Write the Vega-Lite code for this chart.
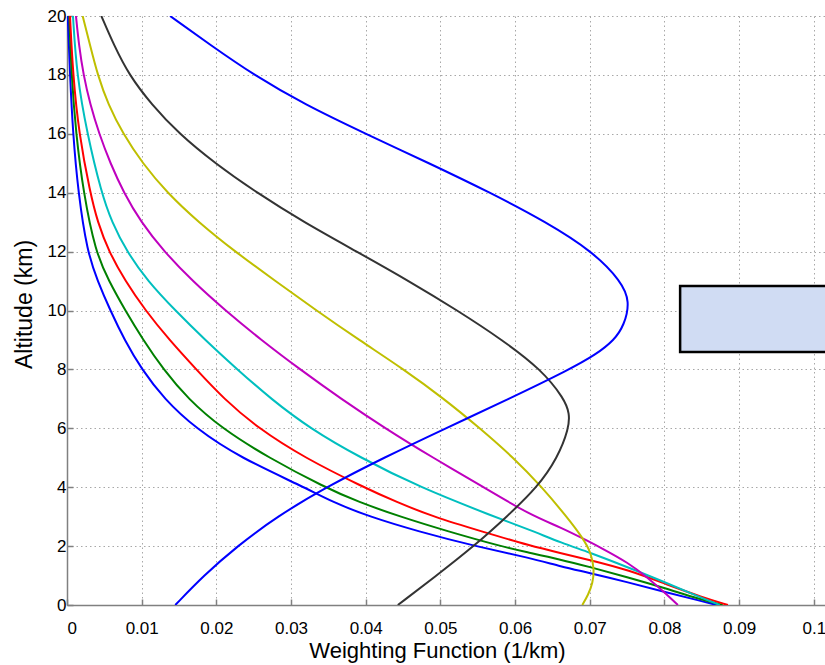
{
  "$schema": "https://vega.github.io/schema/vega-lite/v6.json",
  "width": 758,
  "height": 589,
  "autosize": {"type": "none"},
  "padding": {"left": 67, "top": 16, "right": 0, "bottom": 60},
  "background": "white",
  "config": {
    "view": {"stroke": null},
    "axis": {
      "labelFont": "Liberation Sans",
      "labelFontSize": 17,
      "labelColor": "#000000",
      "titleFont": "Liberation Sans",
      "titleFontWeight": "normal",
      "titleColor": "#000000",
      "domainColor": "#808080",
      "domainWidth": 1.5,
      "tickColor": "#808080",
      "tickSize": -6,
      "tickWidth": 1.5,
      "gridColor": "#a8a8a8",
      "gridDash": [1.5, 3],
      "gridWidth": 1
    }
  },
  "datasets": {
    "curves": [
      {"s": "B2", "alt": 20, "w": 0.0001}, {"s": "B2", "alt": 18, "w": 0.0004}, {"s": "B2", "alt": 16, "w": 0.0008}, {"s": "B2", "alt": 14, "w": 0.0015}, {"s": "B2", "alt": 12, "w": 0.0027}, {"s": "B2", "alt": 11, "w": 0.0041}, {"s": "B2", "alt": 10, "w": 0.0058}, {"s": "B2", "alt": 9, "w": 0.0077}, {"s": "B2", "alt": 8, "w": 0.0100}, {"s": "B2", "alt": 7, "w": 0.0130}, {"s": "B2", "alt": 6, "w": 0.0172}, {"s": "B2", "alt": 5, "w": 0.0232}, {"s": "B2", "alt": 4, "w": 0.0318}, {"s": "B2", "alt": 3.5, "w": 0.0355}, {"s": "B2", "alt": 3, "w": 0.0405}, {"s": "B2", "alt": 2.5, "w": 0.047}, {"s": "B2", "alt": 2, "w": 0.0546}, {"s": "B2", "alt": 1.6, "w": 0.062}, {"s": "B2", "alt": 1.3, "w": 0.0662}, {"s": "B2", "alt": 1.1, "w": 0.0698}, {"s": "B2", "alt": 0.78, "w": 0.075}, {"s": "B2", "alt": 0.44, "w": 0.08}, {"s": "B2", "alt": 0.15, "w": 0.0847}, {"s": "B2", "alt": 0, "w": 0.087},
      {"s": "G", "alt": 20, "w": 0.0003}, {"s": "G", "alt": 18, "w": 0.0006}, {"s": "G", "alt": 16, "w": 0.0012}, {"s": "G", "alt": 14, "w": 0.0022}, {"s": "G", "alt": 12, "w": 0.0038}, {"s": "G", "alt": 11, "w": 0.0056}, {"s": "G", "alt": 10, "w": 0.0078}, {"s": "G", "alt": 9, "w": 0.0102}, {"s": "G", "alt": 8, "w": 0.0129}, {"s": "G", "alt": 7, "w": 0.0162}, {"s": "G", "alt": 6, "w": 0.0207}, {"s": "G", "alt": 5, "w": 0.027}, {"s": "G", "alt": 4, "w": 0.0345}, {"s": "G", "alt": 3.5, "w": 0.039}, {"s": "G", "alt": 3, "w": 0.0446}, {"s": "G", "alt": 2.5, "w": 0.051}, {"s": "G", "alt": 2, "w": 0.058}, {"s": "G", "alt": 1.8, "w": 0.0615}, {"s": "G", "alt": 1.55, "w": 0.066}, {"s": "G", "alt": 1.29, "w": 0.07}, {"s": "G", "alt": 0.95, "w": 0.075}, {"s": "G", "alt": 0.58, "w": 0.08}, {"s": "G", "alt": 0.2, "w": 0.0847}, {"s": "G", "alt": 0, "w": 0.0878},
      {"s": "R", "alt": 20, "w": 0.0004}, {"s": "R", "alt": 18, "w": 0.0008}, {"s": "R", "alt": 16, "w": 0.0016}, {"s": "R", "alt": 14, "w": 0.0031}, {"s": "R", "alt": 13, "w": 0.0041}, {"s": "R", "alt": 12, "w": 0.0056}, {"s": "R", "alt": 11, "w": 0.0078}, {"s": "R", "alt": 10, "w": 0.0105}, {"s": "R", "alt": 9, "w": 0.0137}, {"s": "R", "alt": 8, "w": 0.0173}, {"s": "R", "alt": 7, "w": 0.021}, {"s": "R", "alt": 6, "w": 0.0256}, {"s": "R", "alt": 5, "w": 0.0318}, {"s": "R", "alt": 4, "w": 0.0397}, {"s": "R", "alt": 3.5, "w": 0.0441}, {"s": "R", "alt": 3, "w": 0.049}, {"s": "R", "alt": 2.5, "w": 0.0555}, {"s": "R", "alt": 2, "w": 0.0622}, {"s": "R", "alt": 1.77, "w": 0.066}, {"s": "R", "alt": 1.53, "w": 0.07}, {"s": "R", "alt": 1.19, "w": 0.0752}, {"s": "R", "alt": 0.68, "w": 0.0805}, {"s": "R", "alt": 0.27, "w": 0.085}, {"s": "R", "alt": 0, "w": 0.0885},
      {"s": "C", "alt": 20, "w": 0.0008}, {"s": "C", "alt": 18, "w": 0.0013}, {"s": "C", "alt": 16, "w": 0.0027}, {"s": "C", "alt": 14, "w": 0.0046}, {"s": "C", "alt": 13, "w": 0.006}, {"s": "C", "alt": 12, "w": 0.008}, {"s": "C", "alt": 11, "w": 0.0108}, {"s": "C", "alt": 10, "w": 0.0145}, {"s": "C", "alt": 9, "w": 0.0185}, {"s": "C", "alt": 8, "w": 0.0228}, {"s": "C", "alt": 7, "w": 0.0273}, {"s": "C", "alt": 6, "w": 0.0325}, {"s": "C", "alt": 5, "w": 0.0393}, {"s": "C", "alt": 4, "w": 0.0472}, {"s": "C", "alt": 3, "w": 0.0572}, {"s": "C", "alt": 2.55, "w": 0.062}, {"s": "C", "alt": 2.1, "w": 0.0663}, {"s": "C", "alt": 1.8, "w": 0.0698}, {"s": "C", "alt": 1.29, "w": 0.075}, {"s": "C", "alt": 0.78, "w": 0.08}, {"s": "C", "alt": 0.27, "w": 0.0847}, {"s": "C", "alt": 0, "w": 0.0874},
      {"s": "M", "alt": 20, "w": 0.0012}, {"s": "M", "alt": 19, "w": 0.0016}, {"s": "M", "alt": 18, "w": 0.0022}, {"s": "M", "alt": 17, "w": 0.0031}, {"s": "M", "alt": 16, "w": 0.0043}, {"s": "M", "alt": 15, "w": 0.0058}, {"s": "M", "alt": 14, "w": 0.0076}, {"s": "M", "alt": 13, "w": 0.0099}, {"s": "M", "alt": 12, "w": 0.013}, {"s": "M", "alt": 11, "w": 0.0168}, {"s": "M", "alt": 10, "w": 0.0212}, {"s": "M", "alt": 9, "w": 0.026}, {"s": "M", "alt": 8, "w": 0.0312}, {"s": "M", "alt": 7, "w": 0.0367}, {"s": "M", "alt": 6, "w": 0.0426}, {"s": "M", "alt": 5, "w": 0.049}, {"s": "M", "alt": 4, "w": 0.0558}, {"s": "M", "alt": 3.06, "w": 0.062}, {"s": "M", "alt": 2.63, "w": 0.0662}, {"s": "M", "alt": 2.14, "w": 0.07}, {"s": "M", "alt": 1.97, "w": 0.0713}, {"s": "M", "alt": 1.43, "w": 0.0752}, {"s": "M", "alt": 0.92, "w": 0.0778}, {"s": "M", "alt": 0.41, "w": 0.0801}, {"s": "M", "alt": 0, "w": 0.0818},
      {"s": "Y", "alt": 20, "w": 0.0021}, {"s": "Y", "alt": 19, "w": 0.0031}, {"s": "Y", "alt": 18, "w": 0.0041}, {"s": "Y", "alt": 17, "w": 0.0055}, {"s": "Y", "alt": 16, "w": 0.0075}, {"s": "Y", "alt": 15, "w": 0.0101}, {"s": "Y", "alt": 14, "w": 0.0134}, {"s": "Y", "alt": 13, "w": 0.0176}, {"s": "Y", "alt": 12, "w": 0.0225}, {"s": "Y", "alt": 11, "w": 0.0279}, {"s": "Y", "alt": 10, "w": 0.0334}, {"s": "Y", "alt": 9, "w": 0.0391}, {"s": "Y", "alt": 8, "w": 0.0451}, {"s": "Y", "alt": 7, "w": 0.0505}, {"s": "Y", "alt": 6, "w": 0.0553}, {"s": "Y", "alt": 5, "w": 0.0598}, {"s": "Y", "alt": 4, "w": 0.0636}, {"s": "Y", "alt": 3, "w": 0.0669}, {"s": "Y", "alt": 2.3, "w": 0.069}, {"s": "Y", "alt": 1.77, "w": 0.0702}, {"s": "Y", "alt": 1.19, "w": 0.0706}, {"s": "Y", "alt": 0.75, "w": 0.0704}, {"s": "Y", "alt": 0.35, "w": 0.0698}, {"s": "Y", "alt": 0, "w": 0.069},
      {"s": "K", "alt": 20, "w": 0.0046}, {"s": "K", "alt": 19, "w": 0.0063}, {"s": "K", "alt": 18, "w": 0.0083}, {"s": "K", "alt": 17, "w": 0.0113}, {"s": "K", "alt": 16, "w": 0.015}, {"s": "K", "alt": 15, "w": 0.0198}, {"s": "K", "alt": 14, "w": 0.0254}, {"s": "K", "alt": 13, "w": 0.0317}, {"s": "K", "alt": 12, "w": 0.0388}, {"s": "K", "alt": 11, "w": 0.0458}, {"s": "K", "alt": 10, "w": 0.0523}, {"s": "K", "alt": 9, "w": 0.0583}, {"s": "K", "alt": 8, "w": 0.0635}, {"s": "K", "alt": 7, "w": 0.0666}, {"s": "K", "alt": 6.5, "w": 0.0673}, {"s": "K", "alt": 6, "w": 0.0672}, {"s": "K", "alt": 5, "w": 0.0657}, {"s": "K", "alt": 4, "w": 0.063}, {"s": "K", "alt": 3, "w": 0.0589}, {"s": "K", "alt": 2, "w": 0.0545}, {"s": "K", "alt": 1, "w": 0.0495}, {"s": "K", "alt": 0, "w": 0.0443},
      {"s": "B1", "alt": 20, "w": 0.0138}, {"s": "B1", "alt": 19, "w": 0.0193}, {"s": "B1", "alt": 18, "w": 0.0250}, {"s": "B1", "alt": 17, "w": 0.0318}, {"s": "B1", "alt": 16, "w": 0.0400}, {"s": "B1", "alt": 15, "w": 0.0485}, {"s": "B1", "alt": 14, "w": 0.0567}, {"s": "B1", "alt": 13, "w": 0.0642}, {"s": "B1", "alt": 12, "w": 0.0704}, {"s": "B1", "alt": 11, "w": 0.0742}, {"s": "B1", "alt": 10.3, "w": 0.0754}, {"s": "B1", "alt": 9.5, "w": 0.0746}, {"s": "B1", "alt": 9, "w": 0.0733}, {"s": "B1", "alt": 8.5, "w": 0.0708}, {"s": "B1", "alt": 8, "w": 0.0673}, {"s": "B1", "alt": 7, "w": 0.0592}, {"s": "B1", "alt": 6, "w": 0.0507}, {"s": "B1", "alt": 5, "w": 0.0424}, {"s": "B1", "alt": 4, "w": 0.0347}, {"s": "B1", "alt": 3, "w": 0.0281}, {"s": "B1", "alt": 2, "w": 0.0228}, {"s": "B1", "alt": 1, "w": 0.0183}, {"s": "B1", "alt": 0, "w": 0.0145}
    ],
    "box": [
      {"x1": 0.0821, "x2": 0.11, "y1": 8.59, "y2": 10.83}
    ]
  },
  "layer": [
    {
      "data": {"name": "curves"},
      "mark": {"type": "line", "strokeWidth": 2, "interpolate": "basis", "clip": true},
      "encoding": {
        "x": {
          "field": "w", "type": "quantitative",
          "scale": {"domain": [0, 0.1015], "nice": false, "zero": false},
          "axis": {
            "title": "Weighting Function (1/km)",
            "values": [0, 0.01, 0.02, 0.03, 0.04, 0.05, 0.06, 0.07, 0.08, 0.09, 0.1],
            "format": "~g",
            "labelPadding": 21,
            "titleFontSize": 22,
            "titleX": 370,
            "titleY": 52,
            "titleBaseline": "alphabetic",
            "titleAlign": "center",
            "titleAnchor": null
          }
        },
        "y": {
          "field": "alt", "type": "quantitative",
          "scale": {"domain": [0, 20], "nice": false},
          "axis": {
            "title": "Altitude (km)",
            "values": [0, 2, 4, 6, 8, 10, 12, 14, 16, 18, 20],
            "labelPadding": 7,
            "titleFontSize": 23,
            "titleX": -36,
            "titleY": 288,
            "titleAngle": -90,
            "titleBaseline": "alphabetic",
            "titleAlign": "center",
            "titleAnchor": null
          }
        },
        "color": {
          "field": "s", "type": "nominal",
          "scale": {
            "domain": ["B2", "G", "R", "C", "M", "Y", "K", "B1"],
            "range": ["#0000ff", "#008000", "#ff0000", "#00bfbf", "#bf00bf", "#bfbf00", "#333333", "#0000ff"]
          },
          "legend": null
        },
        "order": {"field": "alt", "type": "quantitative", "sort": "descending"}
      }
    },
    {
      "data": {"name": "box"},
      "mark": {"type": "rect", "fill": "#d0dcf3", "stroke": "#000000", "strokeWidth": 2.5, "clip": true},
      "encoding": {
        "x": {"field": "x1", "type": "quantitative"},
        "x2": {"field": "x2"},
        "y": {"field": "y1", "type": "quantitative"},
        "y2": {"field": "y2"}
      }
    }
  ]
}
